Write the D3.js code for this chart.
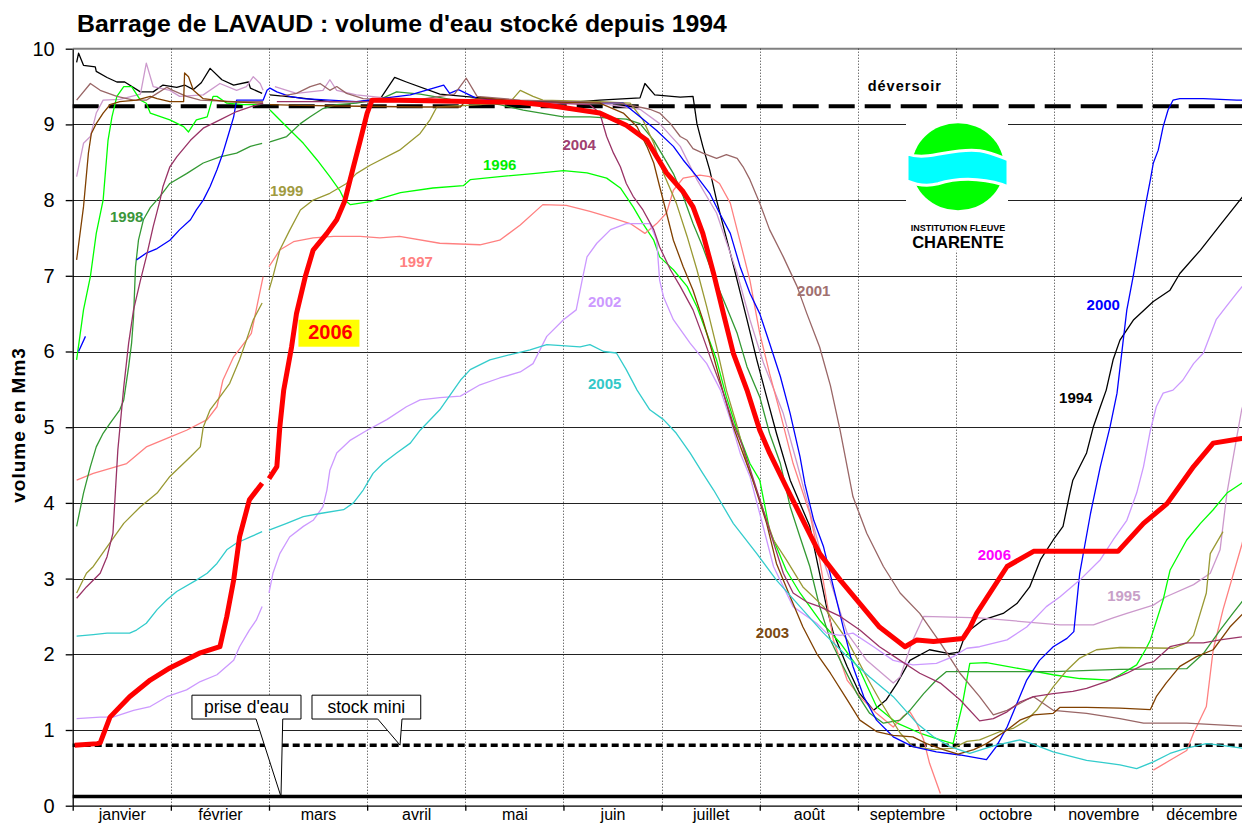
<!DOCTYPE html>
<html>
<head>
<meta charset="utf-8">
<script src="https://cdn.jsdelivr.net/npm/d3@7"></script>
<style>
  body { margin: 0; background: #fff; }
  svg { display: block; font-family: "Liberation Sans", Arial, sans-serif; }
</style>
</head>
<body>
<div id="chart"></div>
<script>
// ---- data (month position 0..12, volume in Mm3) ----
var months = ["janvier", "février", "mars", "avril", "mai", "juin",
    "juillet", "août", "septembre", "octobre", "novembre", "décembre"];
var yTicks = [0, 1, 2, 3, 4, 5, 6, 7, 8, 9, 10];
var deversoir = 9.24, stockMini = 0.80, priseEau = 0.12;
var years = ["1994", "1995", "1996", "1997", "1998", "1999", "2000",
    "2001", "2002", "2003", "2004", "2005", "2006"];

var s1994 = [[0.04,9.82],[0.06,9.94],[0.11,9.78],[0.23,9.76],[0.24,9.70],[0.35,9.62],[0.45,9.56],[0.53,9.56],[0.69,9.43],[0.82,9.43],[0.92,9.52],[1.06,9.49],[1.14,9.52],[1.23,9.46],[1.31,9.55],[1.40,9.74],[1.52,9.59],[1.64,9.52],[1.79,9.56],[1.81,9.48],[1.93,9.41],null,
    [2.01,9.39],[2.32,9.35],[2.62,9.30],[2.93,9.30],[3.13,9.33],[3.28,9.62],[3.40,9.56],[3.74,9.40],[4.15,9.35],[4.56,9.30],[5.17,9.30],[5.37,9.32],[5.78,9.35],[5.83,9.54],[5.93,9.39],[6.19,9.36],[6.32,9.37],[6.36,9.01],[6.42,8.71],[6.49,8.40],[6.56,8.00],[6.63,7.65],[6.70,7.30],[6.77,6.94],[6.87,6.42],[6.97,5.89],[7.07,5.40],[7.17,4.92],[7.31,4.30],[7.51,3.69],[7.61,3.07],[7.68,2.63],[7.75,2.28],[7.89,1.84],[8.02,1.48],[8.16,1.26],[8.29,1.40],[8.40,1.62],[8.53,1.92],[8.73,2.06],[8.93,2.01],[9.03,2.03],[9.10,2.28],[9.27,2.45],[9.48,2.54],[9.62,2.67],[9.75,2.89],[9.86,3.25],[9.99,3.51],[10.09,3.69],[10.16,4.13],[10.19,4.30],[10.33,4.66],[10.40,5.01],[10.47,5.27],[10.53,5.49],[10.60,5.89],[10.67,6.15],[10.81,6.42],[11.01,6.66],[11.18,6.81],[11.28,7.03],[11.49,7.34],[11.69,7.67],[11.91,8.03],[12,8.15]];

var s1995 = [[0.04,8.31],[0.11,8.75],[0.18,8.84],[0.24,9.15],[0.31,9.32],[0.48,9.33],[0.69,9.40],[0.75,9.81],[0.82,9.50],[0.99,9.45],[1.09,9.37],[1.33,9.39],[1.50,9.54],[1.67,9.45],[1.77,9.50],[1.84,9.63],[1.91,9.54],[1.94,9.45],null,
    [2.06,9.50],[2.28,9.41],[2.55,9.45],[2.62,9.59],[2.69,9.45],[2.89,9.39],[3.33,9.33],[4.35,9.30],[5.37,9.28],[5.78,9.20],[5.98,9.01],[6.19,8.71],[6.36,8.27],[6.56,7.83],[6.77,7.03],[6.90,6.42],[7.04,5.84],[7.24,5.18],[7.38,4.52],[7.61,3.40],[7.89,2.28],[8.09,1.92],[8.36,1.62],[8.43,1.70],[8.56,2.19],[8.67,2.50],[9.24,2.48],[10.06,2.39],[10.40,2.39],[10.60,2.48],[10.74,2.54],[11.01,2.65],[11.14,2.76],[11.42,2.92],[11.59,3.07],[11.69,3.38],[11.76,4.13],[11.86,4.87],[11.91,5.23],[12,5.6]];

var s1996 = [[0.04,5.89],[0.11,6.55],[0.18,6.99],[0.24,7.56],[0.31,8.00],[0.36,8.79],[0.40,9.10],[0.45,9.37],[0.52,9.50],[0.60,9.50],[0.69,9.32],[0.75,9.28],[0.79,9.15],[0.99,9.06],[1.13,8.97],[1.18,8.90],[1.26,9.06],[1.37,9.10],[1.43,9.37],[1.47,9.37],[1.57,9.28],[1.74,9.26],[1.91,9.26],null,
    [2.01,9.19],[2.18,8.97],[2.35,8.75],[2.49,8.53],[2.62,8.31],[2.72,8.13],[2.77,8.00],[2.83,7.94],[2.93,7.96],[3.03,7.98],[3.34,8.10],[3.67,8.16],[3.98,8.19],[4.05,8.27],[4.35,8.31],[4.69,8.35],[5.00,8.39],[5.24,8.36],[5.44,8.29],[5.58,8.16],[5.71,7.91],[5.81,7.69],[5.92,7.47],[5.98,7.25],[6.12,7.08],[6.26,6.86],[6.36,6.59],[6.46,6.24],[6.56,5.89],[6.66,5.40],[6.77,4.96],[6.90,4.52],[7.00,4.30],[7.10,3.64],[7.27,3.11],[7.41,2.81],[7.61,2.45],[7.82,2.15],[8.02,1.79],[8.19,1.31],[8.40,1.09],[8.63,0.96],[8.84,0.87],[8.97,0.82],[9.06,1.31],[9.14,1.88],[9.31,1.89],[9.65,1.81],[9.99,1.73],[10.26,1.68],[10.57,1.66],[10.67,1.73],[10.84,1.86],[10.93,2.06],[10.98,2.19],[11.11,2.72],[11.18,3.11],[11.35,3.51],[11.49,3.73],[11.62,3.91],[11.76,4.13],[11.91,4.26],[12,4.35]];

var s1997 = [[0.04,4.30],[0.21,4.39],[0.55,4.52],[0.75,4.74],[0.99,4.87],[1.16,4.96],[1.37,5.10],[1.47,5.27],[1.53,5.62],[1.64,5.93],[1.77,6.15],[1.82,6.24],[1.89,6.68],[1.94,6.99],null,
    [2.00,7.12],[2.11,7.34],[2.25,7.45],[2.45,7.50],[2.66,7.52],[2.93,7.52],[3.13,7.50],[3.33,7.52],[3.74,7.43],[4.15,7.41],[4.35,7.47],[4.56,7.67],[4.79,7.94],[5.03,7.93],[5.27,7.85],[5.51,7.76],[5.68,7.69],[5.83,7.56],[5.95,7.69],[6.05,7.83],[6.12,8.13],[6.22,8.29],[6.39,8.33],[6.49,8.31],[6.59,8.22],[6.70,7.96],[6.83,7.30],[6.90,6.94],[7.00,6.24],[7.10,5.71],[7.21,5.18],[7.34,4.52],[7.51,3.86],[7.61,3.25],[7.68,2.72],[7.75,2.19],[7.89,1.66],[8.02,1.44],[8.19,1.22],[8.36,1.04],[8.46,1.18],[8.53,1.24],[8.60,1.09],[8.67,0.87],[8.73,0.56],[8.84,0.16],null,
    [11.01,0.47],[11.18,0.60],[11.35,0.73],[11.42,0.96],[11.55,1.31],[11.62,2.06],[11.72,2.59],[11.91,3.44],[12,3.9]];

var s1998 = [[0.04,3.69],[0.11,4.13],[0.18,4.48],[0.24,4.74],[0.31,4.92],[0.38,5.05],[0.48,5.23],[0.52,5.36],[0.57,5.80],[0.60,6.11],[0.62,6.46],[0.64,7.12],[0.67,7.47],[0.72,7.74],[0.79,7.90],[0.89,8.05],[0.99,8.22],[1.16,8.35],[1.33,8.49],[1.50,8.57],[1.67,8.62],[1.81,8.71],[1.93,8.75],null,
    [2.01,8.77],[2.18,8.84],[2.32,9.01],[2.42,9.10],[2.55,9.21],[2.69,9.26],[2.89,9.28],[3.13,9.33],[3.30,9.43],[3.54,9.40],[3.85,9.33],[4.35,9.26],[4.59,9.19],[5.00,9.10],[5.27,9.10],[5.64,9.07],[5.78,9.01],[5.92,8.79],[6.02,8.57],[6.12,8.35],[6.22,8.05],[6.32,7.69],[6.42,7.38],[6.53,6.99],[6.66,6.59],[6.77,6.24],[6.87,5.80],[7.00,5.40],[7.10,4.92],[7.21,4.52],[7.31,3.95],[7.41,3.55],[7.51,3.16],[7.61,2.63],[7.72,2.19],[7.85,1.84],[7.99,1.48],[8.12,1.22],[8.26,1.09],[8.43,1.13],[8.53,1.26],[8.67,1.48],[8.80,1.66],[8.90,1.77],[9.21,1.77],[9.99,1.77],[10.67,1.80],[11.35,1.81],[11.52,2.01],[11.69,2.32],[11.82,2.54],[11.91,2.69],[12,2.8]];

var s1999 = [[0.04,2.81],[0.14,3.07],[0.21,3.16],[0.35,3.42],[0.52,3.73],[0.69,3.95],[0.86,4.13],[0.99,4.35],[1.20,4.61],[1.30,4.74],[1.33,5.00],[1.40,5.23],[1.50,5.40],[1.60,5.58],[1.70,5.89],[1.77,6.15],[1.84,6.42],[1.93,6.64],null,
    [2.00,6.81],[2.04,6.99],[2.11,7.34],[2.21,7.60],[2.32,7.87],[2.45,8.00],[2.62,8.09],[2.79,8.22],[2.89,8.35],[3.03,8.46],[3.33,8.66],[3.54,8.88],[3.64,9.06],[3.71,9.23],[4.15,9.26],[4.46,9.30],[4.56,9.45],[4.69,9.37],[4.79,9.32],[5.37,9.30],[5.68,9.28],[5.81,9.06],[5.92,8.75],[6.02,8.35],[6.15,7.96],[6.26,7.52],[6.36,7.08],[6.46,6.59],[6.56,6.06],[6.66,5.49],[6.77,5.01],[6.87,4.52],[7.00,4.04],[7.14,3.51],[7.27,3.25],[7.44,2.89],[7.65,2.63],[7.89,2.19],[8.09,1.70],[8.22,1.40],[8.43,0.96],[8.56,0.78],[8.77,0.74],[8.97,0.76],[9.11,0.85],[9.24,0.87],[9.45,0.98],[9.58,1.02],[9.72,1.13],[9.82,1.26],[9.99,1.57],[10.13,1.79],[10.26,1.95],[10.43,2.06],[10.67,2.09],[11.21,2.08],[11.35,2.15],[11.42,2.25],[11.55,2.81],[11.59,3.33],[11.72,3.62]];

var s2000 = [[0.06,6.00],[0.13,6.20],null,
    [0.65,7.21],[0.75,7.30],[0.86,7.36],[0.99,7.47],[1.09,7.61],[1.20,7.74],[1.26,7.87],[1.33,8.00],[1.40,8.18],[1.47,8.40],[1.53,8.62],[1.59,8.88],[1.64,9.10],[1.67,9.32],[1.94,9.32],[1.98,9.45],[2.01,9.48],[2.08,9.43],[2.21,9.37],[2.35,9.34],[2.62,9.32],[2.89,9.30],[3.44,9.39],[3.78,9.52],[3.84,9.41],[3.93,9.46],[4.12,9.34],[4.56,9.30],[5.61,9.28],[5.78,9.10],[5.95,8.92],[6.12,8.71],[6.22,8.53],[6.36,8.31],[6.49,8.09],[6.59,7.83],[6.70,7.56],[6.80,7.12],[6.90,6.77],[7.00,6.50],[7.10,6.11],[7.21,5.67],[7.31,5.18],[7.41,4.61],[7.46,4.25],[7.55,3.77],[7.65,3.42],[7.75,2.89],[7.85,2.36],[7.95,1.84],[8.06,1.44],[8.19,1.13],[8.36,0.91],[8.56,0.78],[8.80,0.71],[9.04,0.67],[9.31,0.61],[9.41,0.78],[9.52,1.04],[9.62,1.35],[9.72,1.66],[9.85,1.92],[9.99,2.10],[10.13,2.21],[10.20,2.30],[10.26,3.07],[10.37,3.86],[10.47,4.48],[10.57,5.01],[10.64,5.45],[10.70,6.11],[10.74,6.55],[10.81,7.03],[10.91,7.78],[10.94,8.00],[10.98,8.27],[11.01,8.49],[11.06,8.66],[11.11,8.97],[11.16,9.19],[11.21,9.32],[11.28,9.34],[11.52,9.34],[11.86,9.32],[12,9.32]];

var s2001 = [[0.04,9.32],[0.18,9.54],[0.28,9.45],[0.45,9.37],[0.62,9.32],[0.75,9.32],[0.86,9.41],[0.96,9.49],[1.02,9.45],[1.16,9.37],[1.30,9.32],[1.64,9.30],[1.94,9.30],null,
    [2.11,9.37],[2.28,9.41],[2.42,9.50],[2.52,9.54],[2.62,9.45],[2.69,9.50],[2.79,9.41],[2.96,9.34],[3.54,9.33],[3.89,9.40],[4.01,9.61],[4.12,9.37],[4.56,9.32],[5.58,9.28],[5.88,9.20],[5.98,9.15],[6.09,9.01],[6.19,8.84],[6.26,8.79],[6.32,8.68],[6.42,8.62],[6.56,8.55],[6.66,8.60],[6.77,8.55],[6.83,8.44],[6.90,8.27],[7.00,7.96],[7.10,7.61],[7.24,7.25],[7.38,6.86],[7.48,6.50],[7.61,6.06],[7.72,5.55],[7.82,4.95],[7.95,4.08],[8.09,3.60],[8.26,3.16],[8.43,2.81],[8.63,2.54],[8.84,2.15],[9.04,1.75],[9.24,1.44],[9.38,1.20],[9.52,1.26],[9.72,1.40],[9.79,1.44],[9.89,1.35],[9.99,1.26],[10.33,1.22],[10.67,1.15],[10.91,1.09],[11.35,1.09],[11.91,1.05],[12,1.05]];

var s2002 = [[0.04,1.15],[0.28,1.17],[0.41,1.17],[0.62,1.26],[0.79,1.31],[0.96,1.44],[1.16,1.53],[1.30,1.64],[1.47,1.73],[1.64,1.92],[1.70,2.10],[1.80,2.32],[1.87,2.45],[1.93,2.63],null,
    [2.00,2.81],[2.04,3.07],[2.11,3.33],[2.21,3.55],[2.35,3.69],[2.45,3.77],[2.55,3.95],[2.59,4.17],[2.62,4.43],[2.69,4.66],[2.83,4.83],[3.00,4.96],[3.20,5.10],[3.40,5.27],[3.54,5.36],[3.74,5.39],[3.95,5.41],[4.15,5.56],[4.35,5.65],[4.56,5.73],[4.69,5.84],[4.83,6.20],[5.00,6.42],[5.13,6.55],[5.19,6.94],[5.24,7.25],[5.34,7.43],[5.48,7.61],[5.64,7.69],[5.88,7.69],[5.95,7.47],[5.98,6.94],[6.02,6.72],[6.12,6.42],[6.29,6.11],[6.46,5.84],[6.60,5.49],[6.70,5.10],[6.80,4.66],[6.90,4.35],[7.00,3.86],[7.14,3.16],[7.34,2.63],[7.58,2.41],[7.68,2.28],[7.82,2.25],[7.95,2.28],[8.16,2.10],[8.36,1.92],[8.56,1.86],[8.80,1.88],[8.97,1.97],[9.11,2.08],[9.24,2.10],[9.52,2.19],[9.72,2.36],[9.92,2.63],[10.06,2.76],[10.26,2.98],[10.47,3.25],[10.60,3.51],[10.74,3.77],[10.84,4.13],[10.91,4.48],[10.98,4.96],[11.04,5.27],[11.11,5.45],[11.21,5.49],[11.31,5.62],[11.42,5.84],[11.52,5.98],[11.65,6.42],[11.75,6.59],[11.86,6.77],[11.91,6.85],[12,7.0]];

var s2003 = [[0.04,7.21],[0.11,7.91],[0.16,8.62],[0.19,8.88],[0.24,9.01],[0.31,9.15],[0.38,9.26],[0.48,9.30],[0.65,9.32],[0.79,9.37],[0.86,9.34],[0.99,9.30],[1.13,9.30],[1.14,9.68],[1.18,9.63],[1.23,9.45],[1.33,9.34],[1.57,9.30],[1.94,9.28],null,
    [2.01,9.26],[2.32,9.25],[2.93,9.24],[3.54,9.23],[3.95,9.23],[4.01,9.32],[4.18,9.35],[4.56,9.30],[5.37,9.28],[5.61,9.15],[5.75,8.97],[5.85,8.71],[5.92,8.49],[5.98,8.18],[6.05,7.83],[6.12,7.47],[6.22,7.12],[6.32,6.81],[6.42,6.42],[6.53,5.93],[6.63,5.45],[6.73,5.01],[6.83,4.65],[6.93,4.30],[7.07,3.73],[7.17,3.20],[7.31,2.76],[7.44,2.36],[7.58,2.01],[7.72,1.75],[7.89,1.40],[8.02,1.13],[8.19,0.98],[8.36,0.93],[8.56,0.91],[8.70,0.82],[8.87,0.74],[9.02,0.68],[9.18,0.74],[9.31,0.82],[9.52,1.00],[9.65,1.13],[9.79,1.20],[9.99,1.22],[10.06,1.30],[10.33,1.30],[10.67,1.29],[10.98,1.27],[11.04,1.44],[11.14,1.62],[11.28,1.84],[11.45,1.97],[11.62,2.06],[11.79,2.36],[11.91,2.52],[12,2.62]];

var s2004 = [[0.04,2.74],[0.14,2.89],[0.28,3.07],[0.35,3.29],[0.41,3.60],[0.43,4.04],[0.46,4.70],[0.52,5.53],[0.57,6.11],[0.62,6.55],[0.69,6.94],[0.75,7.25],[0.82,7.65],[0.89,8.00],[0.92,8.18],[0.99,8.44],[1.06,8.57],[1.20,8.79],[1.33,8.95],[1.50,9.06],[1.67,9.17],[1.81,9.23],[1.94,9.28],null,
    [2.08,9.30],[3.33,9.30],[4.56,9.30],[5.27,9.26],[5.37,9.15],[5.44,8.84],[5.51,8.62],[5.58,8.44],[5.64,8.22],[5.71,8.05],[5.81,7.87],[5.92,7.61],[5.98,7.38],[6.09,7.08],[6.19,6.86],[6.32,6.55],[6.42,6.20],[6.53,5.80],[6.63,5.45],[6.73,5.05],[6.83,4.74],[6.97,4.17],[7.10,3.64],[7.24,3.07],[7.34,2.81],[7.48,2.69],[7.61,2.63],[7.82,2.50],[8.02,2.32],[8.22,2.10],[8.43,1.92],[8.63,1.75],[8.84,1.62],[9.04,1.40],[9.24,1.12],[9.38,1.15],[9.52,1.24],[9.65,1.37],[9.79,1.44],[9.99,1.48],[10.19,1.51],[10.33,1.55],[10.53,1.64],[10.74,1.75],[10.94,1.88],[11.01,1.90],[11.18,2.10],[11.35,2.15],[11.52,2.15],[11.69,2.19],[11.91,2.23],[12,2.25]];

var s2005 = [[0.04,2.24],[0.21,2.26],[0.35,2.28],[0.58,2.28],[0.65,2.32],[0.75,2.41],[0.86,2.59],[0.96,2.72],[1.06,2.83],[1.26,2.98],[1.37,3.07],[1.47,3.20],[1.57,3.38],[1.67,3.47],[1.81,3.55],[1.93,3.62],null,
    [2.00,3.64],[2.18,3.73],[2.35,3.82],[2.52,3.86],[2.76,3.91],[2.86,4.00],[2.96,4.17],[3.06,4.39],[3.16,4.52],[3.30,4.66],[3.44,4.79],[3.54,4.96],[3.74,5.23],[3.95,5.62],[4.05,5.76],[4.25,5.89],[4.46,5.96],[4.66,6.02],[4.83,6.09],[5.17,6.06],[5.27,6.09],[5.41,6.00],[5.54,5.98],[5.64,5.76],[5.75,5.49],[5.88,5.23],[6.02,5.10],[6.15,4.92],[6.29,4.66],[6.42,4.39],[6.53,4.17],[6.73,3.73],[6.97,3.33],[7.17,2.98],[7.41,2.63],[7.65,2.28],[7.89,1.97],[8.12,1.70],[8.36,1.44],[8.60,1.09],[8.77,0.91],[8.94,0.78],[9.14,0.69],[9.38,0.79],[9.65,0.87],[9.79,0.81],[9.99,0.71],[10.33,0.60],[10.67,0.54],[10.84,0.49],[11.01,0.58],[11.18,0.69],[11.35,0.76],[11.55,0.82],[11.69,0.80],[11.91,0.76],[12,0.75]];

var s2006 = [[0.02,0.80],[0.25,0.82],[0.28,0.83],[0.38,1.17],[0.58,1.44],[0.79,1.66],[0.99,1.82],[1.30,2.02],[1.50,2.10],[1.57,2.50],[1.64,2.98],[1.70,3.55],[1.80,4.04],[1.93,4.26],null,
    [2.00,4.32],[2.08,4.48],[2.11,5.00],[2.15,5.49],[2.23,6.06],[2.28,6.50],[2.37,6.99],[2.45,7.34],[2.59,7.56],[2.69,7.74],[2.77,7.98],[2.86,8.44],[2.93,8.79],[3.00,9.15],[3.05,9.32],[3.33,9.32],[4.56,9.29],[4.86,9.25],[5.37,9.15],[5.64,8.99],[5.85,8.79],[6.05,8.36],[6.22,8.11],[6.32,7.91],[6.42,7.56],[6.53,7.03],[6.63,6.50],[6.73,5.98],[6.87,5.49],[7.00,4.96],[7.10,4.66],[7.27,4.21],[7.44,3.77],[7.61,3.33],[7.82,2.98],[8.02,2.67],[8.22,2.36],[8.48,2.10],[8.60,2.19],[8.77,2.17],[9.07,2.21],[9.14,2.35],[9.21,2.54],[9.52,3.16],[9.79,3.36],[10.65,3.36],[10.91,3.73],[11.15,3.99],[11.42,4.48],[11.62,4.79],[11.91,4.85],[12,4.86]];

var seriesData = [s1994, s1995, s1996, s1997, s1998, s1999, s2000,
    s2001, s2002, s2003, s2004, s2005, s2006];

// year labels placed on the chart: [text, month, volume]
var yearLabels = [
    ["1998", 0.38, 7.71], ["1999", 2.01, 8.05], ["1996", 4.18, 8.40],
    ["2004", 4.99, 8.66], ["1997", 3.33, 7.12], ["2002", 5.25, 6.59],
    ["2005", 5.25, 5.51], ["2001", 7.38, 6.73], ["2003", 6.96, 2.21],
    ["2000", 10.33, 6.55], ["1994", 10.05, 5.32], ["2006", 9.22, 3.25],
    ["1995", 10.54, 2.71]
];

// ---- styles ----
var colors = {
    "1994": "#000000", "1995": "#cc99cc", "1996": "#00ff00", "1997": "#ff8080",
    "1998": "#339933", "1999": "#999933", "2000": "#0000ff", "2001": "#996666",
    "2002": "#cc99ff", "2003": "#804000", "2004": "#993366", "2005": "#33cccc",
    "2006": "#ff0000"
};
var labelColors = {
    "1994": "#000000", "1995": "#c8a0c8", "1996": "#00ee00", "1997": "#ff8080",
    "1998": "#3a963a", "1999": "#a09a40", "2000": "#0000ff", "2001": "#a07070",
    "2002": "#cc99ff", "2003": "#7b4a12", "2004": "#a04070", "2005": "#33c8c8",
    "2006": "#ff00ff"
};

var width = 1242, height = 823;
var x = d3.scaleLinear().domain([0, 12]).range([72.7, 1250.5]);
var y = d3.scaleLinear().domain([0, 10]).range([805.7, 48.7]);

var svg = d3.select("#chart")
    .append("svg")
    .attr("width", width)
    .attr("height", height);

svg.append("rect").attr("width", width).attr("height", height).attr("fill", "#fff");

// title
svg.append("text")
    .attr("x", 77)
    .attr("y", 32)
    .attr("font-size", "24.8px")
    .attr("font-weight", "bold")
    .text("Barrage de LAVAUD : volume d'eau stocké depuis 1994");

// horizontal grid
svg.append("g")
    .selectAll("line")
    .data(yTicks.filter(function (d) { return d > 0 && d < 10; }))
    .enter()
    .append("line")
    .attr("x1", x(0)).attr("x2", x(12))
    .attr("y1", function (d) { return Math.round(y(d)) + 0.5; })
    .attr("y2", function (d) { return Math.round(y(d)) + 0.5; })
    .attr("stroke", "#222")
    .attr("stroke-width", 1);

// top border
svg.append("line")
    .attr("x1", x(0)).attr("x2", x(12))
    .attr("y1", y(10)).attr("y2", y(10))
    .attr("stroke", "#808080")
    .attr("stroke-width", 2);

// month dividers
svg.append("g")
    .selectAll("line")
    .data(d3.range(1, 12))
    .enter()
    .append("line")
    .attr("x1", function (d) { return Math.round(x(d)) + 0.5; })
    .attr("x2", function (d) { return Math.round(x(d)) + 0.5; })
    .attr("y1", y(10)).attr("y2", y(0))
    .attr("stroke", "#333")
    .attr("stroke-width", 1)
    .attr("stroke-dasharray", "1,2");

// reference lines
svg.append("line")
    .attr("x1", x(0)).attr("x2", x(12))
    .attr("y1", y(deversoir)).attr("y2", y(deversoir))
    .attr("stroke", "#000").attr("stroke-width", 4)
    .attr("stroke-dasharray", "26,10");
svg.append("line")
    .attr("x1", x(0)).attr("x2", x(12))
    .attr("y1", y(stockMini)).attr("y2", y(stockMini))
    .attr("stroke", "#000").attr("stroke-width", 3.5)
    .attr("stroke-dasharray", "7,4");
svg.append("line")
    .attr("x1", x(0)).attr("x2", x(12))
    .attr("y1", y(priseEau)).attr("y2", y(priseEau))
    .attr("stroke", "#000").attr("stroke-width", 3.5);

svg.append("text")
    .attr("x", x(8.10)).attr("y", y(9.44))
    .attr("font-size", "14.5px").attr("font-weight", "bold")
    .attr("letter-spacing", "1px")
    .text("déversoir");

// logo (white patch hides the grid)
var logo = svg.append("g")
    .attr("transform", "translate(" + x(9.02) + "," + y(8.44) + ")");
logo.append("rect")
    .attr("x", -52).attr("y", -48).attr("width", 102).attr("height", 132)
    .attr("fill", "#fff");
logo.append("ellipse")
    .attr("rx", 46).attr("ry", 43.5)
    .attr("fill", "#00ff00");
logo.append("path")
    .attr("d", "M-51,-13 C-30,-5 -5,-20 22,-16 C34,-14 42,-10 50,-7 L50,20 C35,13 5,9 -20,17 C-32,20 -42,18 -51,14 Z")
    .attr("fill", "#00ffff")
    .attr("stroke", "#fff")
    .attr("stroke-width", 3);
logo.append("text")
    .attr("x", 0).attr("y", 64)
    .attr("text-anchor", "middle")
    .attr("font-size", "9px").attr("font-weight", "bold")
    .text("INSTITUTION FLEUVE");
logo.append("text")
    .attr("x", 0).attr("y", 81.5)
    .attr("text-anchor", "middle")
    .attr("font-size", "16.5px").attr("font-weight", "bold")
    .text("CHARENTE");

// series lines
var clip = svg.append("clipPath").attr("id", "plotclip");
clip.append("rect")
    .attr("x", x(0)).attr("y", y(10))
    .attr("width", x(12) - x(0)).attr("height", y(0) - y(10));

var line = d3.line()
    .defined(function (d) { return d !== null; })
    .x(function (d) { return x(d[0]); })
    .y(function (d) { return y(d[1]); });

svg.append("g")
    .attr("clip-path", "url(#plotclip)")
    .selectAll("path")
    .data(seriesData)
    .enter()
    .append("path")
    .attr("d", function (d) { return line(d); })
    .attr("fill", "none")
    .attr("stroke", function (d, i) { return colors[years[i]]; })
    .attr("stroke-width", function (d, i) { return years[i] === "2006" ? 5 : 1.3; })
    .attr("stroke-linejoin", "round");

// year labels
svg.append("g")
    .selectAll("text")
    .data(yearLabels)
    .enter()
    .append("text")
    .attr("x", function (d) { return x(d[1]); })
    .attr("y", function (d) { return y(d[2]); })
    .attr("font-size", "15px")
    .attr("font-weight", "bold")
    .attr("fill", function (d) { return labelColors[d[0]]; })
    .text(function (d) { return d[0]; });

// highlighted 2006 label
svg.append("rect")
    .attr("x", x(2.30)).attr("y", y(6.42))
    .attr("width", 61).attr("height", 27)
    .attr("fill", "#ffff00");
svg.append("text")
    .attr("x", x(2.40)).attr("y", y(6.16))
    .attr("font-size", "20px").attr("font-weight", "bold")
    .attr("fill", "#ff0000")
    .text("2006");

// callouts
var callouts = [
    { text: "prise d'eau", x0: 1.215, x1: 2.326, top: 1.46, bot: 1.145, b0: 1.868, b1: 2.14, tip: 2.122, tv: priseEau },
    { text: "stock mini", x0: 2.438, x1: 3.546, top: 1.46, bot: 1.145, b0: 3.108, b1: 3.355, tip: 3.335, tv: stockMini }
];
callouts.forEach(function (c) {
    var p = d3.path();
    p.moveTo(x(c.x0), y(c.top));
    p.lineTo(x(c.x1), y(c.top));
    p.lineTo(x(c.x1), y(c.bot));
    p.lineTo(x(c.b1), y(c.bot));
    p.lineTo(x(c.tip), y(c.tv));
    p.lineTo(x(c.b0), y(c.bot));
    p.lineTo(x(c.x0), y(c.bot));
    p.closePath();
    svg.append("path")
        .attr("d", p.toString())
        .attr("fill", "#fff")
        .attr("stroke", "#000")
        .attr("stroke-width", 1);
    svg.append("text")
        .attr("x", (x(c.x0) + x(c.x1)) / 2)
        .attr("y", y(c.bot) - 6)
        .attr("text-anchor", "middle")
        .attr("font-size", "17.5px")
        .text(c.text);
});

// axes
var yAxis = d3.axisLeft(y)
    .tickValues(yTicks)
    .tickSize(7)
    .tickSizeOuter(0)
    .tickPadding(11);
var gy = svg.append("g")
    .attr("transform", "translate(" + x(0) + ",0)")
    .call(yAxis);
gy.selectAll("text").attr("font-size", "20px").attr("font-family", "\"Liberation Sans\", Arial, sans-serif").attr("fill", "#000");
gy.selectAll("line, path").attr("stroke", "#000").attr("stroke-width", 1.3);

var xAxis = d3.axisBottom(x)
    .tickValues(d3.range(0, 13))
    .tickSize(5)
    .tickSizeOuter(0)
    .tickFormat("");
var gx = svg.append("g")
    .attr("transform", "translate(0," + y(0) + ")")
    .call(xAxis);
gx.selectAll("line, path").attr("stroke", "#000").attr("stroke-width", 1.3);

var xLabels = d3.axisBottom(x)
    .tickValues(d3.range(0, 12).map(function (i) { return i + 0.5; }))
    .tickSize(0)
    .tickPadding(3)
    .tickFormat(function (d) { return months[Math.floor(d)]; });
var gxl = svg.append("g")
    .attr("transform", "translate(0," + y(0) + ")")
    .call(xLabels);
gxl.select(".domain").remove();
gxl.selectAll("text").attr("font-size", "16px").attr("font-family", "\"Liberation Sans\", Arial, sans-serif").attr("fill", "#000");

// y title
svg.append("text")
    .attr("transform", "translate(25," + y(5.03) + ") rotate(-90)")
    .attr("text-anchor", "middle")
    .attr("font-size", "19px")
    .attr("font-weight", "bold")
    .attr("letter-spacing", "1px")
    .text("volume en Mm3");
</script>
</body>
</html>
